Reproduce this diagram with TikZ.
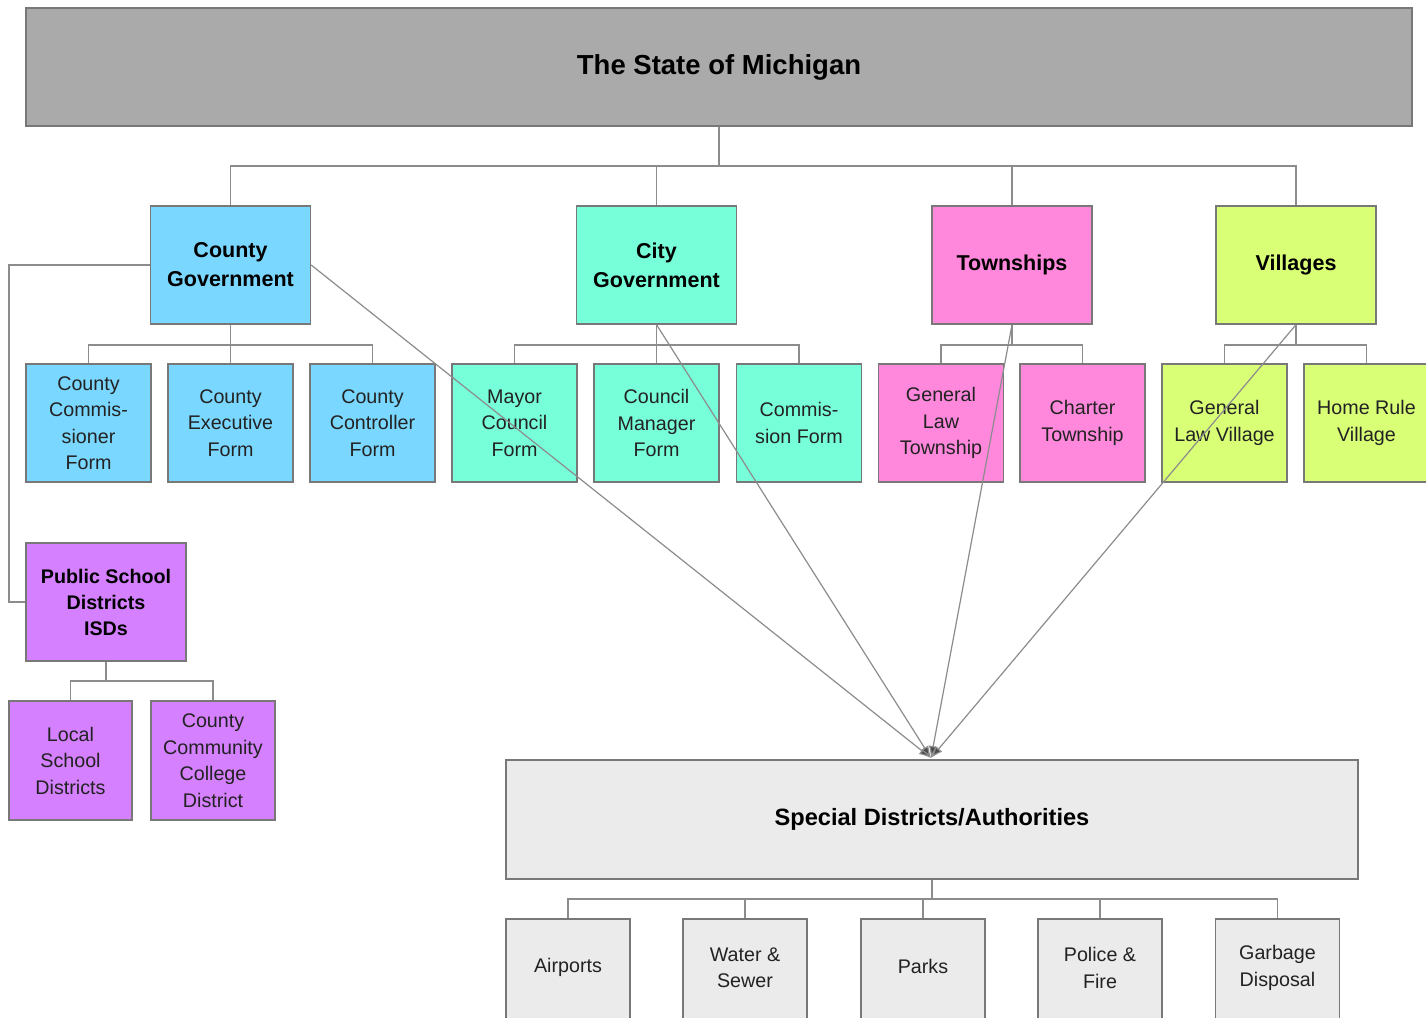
\documentclass[tikz,border=0pt]{standalone}
\usepackage{fontspec}
\setmainfont{Liberation Sans}
\usetikzlibrary{arrows.meta}
\definecolor{cblue}{RGB}{122,215,255}
\definecolor{caqua}{RGB}{119,255,217}
\definecolor{cpink}{RGB}{255,136,221}
\definecolor{clime}{RGB}{217,255,119}
\definecolor{cpurp}{RGB}{213,128,255}
\definecolor{cgray}{RGB}{170,170,170}
\definecolor{clgray}{RGB}{235,235,235}
\definecolor{bord}{RGB}{120,120,120}
\definecolor{wire}{RGB}{140,140,140}
\definecolor{txt}{RGB}{34,34,34}
\tikzset{
  box/.style={draw=bord, line width=1.3pt, rectangle, align=center, inner sep=0pt, text=txt,
    font=\fontsize{19.7}{26.5}\selectfont},
  sbox/.style={box, minimum width=125pt, minimum height=118pt},
  hbox/.style={box, minimum width=160pt, minimum height=118pt, text=black,
    font=\bfseries\fontsize{21.5}{29}\selectfont},
  lbl/.style={text=txt, font=\fontsize{19.7}{26.5}\selectfont, align=center},
  conn/.style={draw=wire, line width=1.2pt},
  arr/.style={draw=wire, line width=1.2pt, -{Latex[length=12pt,width=9pt,fill=black!70]}},
}
\begin{document}
\begin{tikzpicture}[x=1pt,y=-1pt]
\path[use as bounding box, clip] (0,0) rectangle (1426,1017);
\fill[white] (0,0) rectangle (1426,1017);
% top
\node[box, fill=cgray, minimum width=1386pt, minimum height=118pt, text=black,
  font=\bfseries\fontsize{27.5}{32}\selectfont] (state) at (719,67) {\raisebox{3pt}{The State of Michigan}};
% level 1
\node[hbox, fill=cblue] (county) at (230.5,265) {County\\Government};
\node[hbox, fill=caqua] (city) at (656.5,265) {City\\Government};
\node[hbox, fill=cpink] (town) at (1012,265) {\raisebox{4pt}{Townships}};
\node[hbox, fill=clime] (vill) at (1296,265) {\raisebox{4pt}{Villages}};
% level 2
\node[sbox, fill=cblue] (ccf) at (88.5,423) {County\\Commis-\\sioner\\Form};
\node[sbox, fill=cblue] (cef) at (230.5,423) {County\\Executive\\Form};
\node[sbox, fill=cblue] (ccof) at (372.5,423) {County\\Controller\\Form};
\node[sbox, fill=caqua] (mcf) at (514.5,423) {Mayor\\Council\\Form};
\node[sbox, fill=caqua] (cmf) at (656.5,423) {Council\\Manager\\Form};
\node[sbox, fill=caqua] (csf) at (799,423) {Commis-\\sion Form};
\node[sbox, fill=cpink] (glt) at (941,423) {General\\Law\\Township};
\node[sbox, fill=cpink] (ct) at (1082.5,423) {Charter\\Township};
\node[sbox, fill=clime] (glv) at (1224.5,423) {General\\Law Village};
\node[sbox, fill=clime] (hrv) at (1366.5,423) {Home Rule\\Village};
% schools
\node[hbox, fill=cpurp, font=\bfseries\fontsize{19.7}{26}\selectfont] (psd) at (106,602) {Public School\\Districts\\ISDs};
\node[sbox, fill=cpurp, minimum width=123pt, minimum height=119pt] (lsd) at (70.5,760.5) {Local\\School\\Districts};
\node[sbox, fill=cpurp, minimum width=124pt, minimum height=119pt] (ccc) at (213,760.5) {County\\Community\\College\\District};
% special
\node[box, fill=clgray, minimum width=852pt, minimum height=119pt, text=black,
  font=\bfseries\fontsize{23.6}{28}\selectfont] (spec) at (932,819.5) {\raisebox{3pt}{Special Districts/Authorities}};
\node[sbox, fill=clgray, minimum width=124pt, minimum height=118pt] (air) at (568,978) {};
\node[sbox, fill=clgray, minimum width=124pt, minimum height=118pt] (ws) at (745,978) {};
\node[sbox, fill=clgray, minimum width=124pt, minimum height=118pt] (parks) at (923,978) {};
\node[sbox, fill=clgray, minimum width=124pt, minimum height=118pt] (pf) at (1100,978) {};
\node[sbox, fill=clgray, minimum width=124pt, minimum height=118pt] (gd) at (1277.5,978) {};
\node[lbl] (airt) at (568,967) {Airports};
\node[lbl] (wst) at (745,968) {Water \&\\Sewer};
\node[lbl] (parkst) at (923,966) {Parks};
\node[lbl] (pft) at (1100,968) {Police \&\\Fire};
\node[lbl] (gdt) at (1277.5,968) {Garbage\\Disposal};
% tree connectors
\coordinate (j0) at (719,166);
\draw[conn] (state.south) -- (j0);
\draw[conn] (county.north) |- (j0) -| (vill.north);
\draw[conn] (city.north) -- (city.north |- j0);
\draw[conn] (town.north) -- (town.north |- j0);
\coordinate (j1) at (230.5,345);
\draw[conn] (county.south) -- (j1);
\draw[conn] (ccf.north) |- (j1) -| (ccof.north);
\draw[conn] (cef.north) -- (j1);
\coordinate (j2) at (656.5,345);
\draw[conn] (city.south) -- (j2);
\draw[conn] (mcf.north) |- (j2) -| (csf.north);
\draw[conn] (cmf.north) -- (j2);
\coordinate (j3) at (1012,345);
\draw[conn] (town.south) -- (j3);
\draw[conn] (glt.north) |- (j3) -| (ct.north);
\coordinate (j4) at (1296,345);
\draw[conn] (vill.south) -- (j4);
\draw[conn] (glv.north) |- (j4) -| (hrv.north);
\coordinate (j5) at (9,265);
\draw[conn] (county.west) -- (j5) |- (psd.west);
\coordinate (j6) at (106,681);
\draw[conn] (psd.south) -- (j6);
\draw[conn] (lsd.north) |- (j6) -| (ccc.north);
\coordinate (j7) at (932,899);
\draw[conn] (spec.south) -- (j7);
\draw[conn] (air.north) |- (j7) -| (gd.north);
\draw[conn] (ws.north) -- (ws.north |- j7);
\draw[conn] (parks.north) -- (parks.north |- j7);
\draw[conn] (pf.north) -- (pf.north |- j7);
% arrows to special
\coordinate (tgt) at (931,758);
\draw[arr] (county.east) -- (tgt);
\draw[arr] (city.south) -- (tgt);
\draw[arr] (town.south) -- (tgt);
\draw[arr] (vill.south) -- (tgt);
\end{tikzpicture}
\end{document}
